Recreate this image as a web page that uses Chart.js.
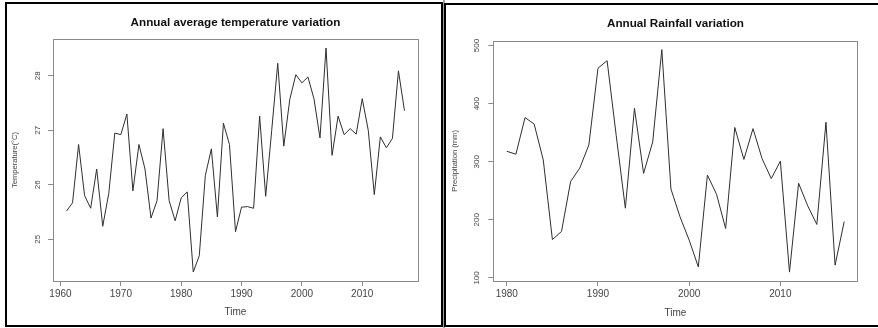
<!DOCTYPE html>
<html>
<head>
<meta charset="utf-8">
<script src="https://cdn.jsdelivr.net/npm/chart.js@4/dist/chart.umd.min.js"></script>
<style>
  html, body { margin: 0; padding: 0; background: #fff; overflow: hidden; }
  body { width: 878px; height: 328px; position: relative; }
  .panel { position: absolute; box-sizing: border-box; border: 2px solid #000; background: #fff; }
  #leftPanel { left: 5px; top: 2px; width: 438px; height: 325px; }
  #rightPanel { left: 444px; top: 3px; width: 440px; height: 324px; }
  #gap { position: absolute; left: 443px; top: 0; width: 2px; height: 328px; background: #a0a0a0; }
  canvas { position: absolute; }
  #tempChart { left: 7px; top: 5px; }
  #rainChart { left: 447px; top: 5px; }
</style>
</head>
<body>
<div id="gap"></div>
<div class="panel" id="leftPanel"></div>
<div class="panel" id="rightPanel"></div>
<canvas id="tempChart" width="434" height="320"></canvas>
<canvas id="rainChart" width="430" height="320"></canvas>
<script>
// annual average temperature, 1961-2017
const tempYears = [1961, 1962, 1963, 1964, 1965, 1966, 1967, 1968, 1969, 1970,
  1971, 1972, 1973, 1974, 1975, 1976, 1977, 1978, 1979, 1980,
  1981, 1982, 1983, 1984, 1985, 1986, 1987, 1988, 1989, 1990,
  1991, 1992, 1993, 1994, 1995, 1996, 1997, 1998, 1999, 2000,
  2001, 2002, 2003, 2004, 2005, 2006, 2007, 2008, 2009, 2010,
  2011, 2012, 2013, 2014, 2015, 2016, 2017];
const tempValues = [25.52, 25.67, 26.74, 25.80, 25.57, 26.29, 25.24, 25.84, 26.95, 26.92,
  27.30, 25.89, 26.74, 26.29, 25.39, 25.71, 27.03, 25.71, 25.34, 25.76,
  25.87, 24.40, 24.70, 26.17, 26.66, 25.41, 27.13, 26.74, 25.14, 25.59,
  25.60, 25.57, 27.26, 25.79, 27.00, 28.23, 26.71, 27.57, 28.02, 27.87,
  27.98, 27.58, 26.86, 28.51, 26.54, 27.26, 26.92, 27.03, 26.93, 27.58,
  27.00, 25.82, 26.88, 26.68, 26.85, 28.09, 27.36];
const tempTicksX = [1960, 1970, 1980, 1990, 2000, 2010];
const tempTicksY = [25, 26, 27, 28];

// annual rainfall, 1980-2017
const rainYears = [1980, 1981, 1982, 1983, 1984, 1985, 1986, 1987, 1988, 1989,
  1990, 1991, 1992, 1993, 1994, 1995, 1996, 1997, 1998, 1999,
  2000, 2001, 2002, 2003, 2004, 2005, 2006, 2007, 2008, 2009,
  2010, 2011, 2012, 2013, 2014, 2015, 2016, 2017];
const rainValues = [318, 313, 376, 365, 303, 166, 180, 266, 289, 329,
  461, 474, 345, 220, 392, 280, 334, 493, 253, 205,
  165, 119, 277, 244, 185, 359, 304, 357, 305, 271,
  301, 110, 263, 224, 192, 368, 122, 197];
const rainTicksX = [1980, 1990, 2000, 2010];
const rainTicksY = [100, 200, 300, 400, 500];

const lineColor = '#2e2e2e';
const boxColor = '#8a8a8a';
const textColor = '#444';
const sans = "'Liberation Sans', Arial, sans-serif";

// R pads the data range by 4% on each side
const rRange = arr => {
  const lo = Math.min(...arr), hi = Math.max(...arr);
  const d = (hi - lo) * 0.04;
  return [lo - d, hi + d];
};

// plot frame around the chart area
const boxPlugin = {
  id: 'box',
  afterDraw(chart) {
    const { ctx, chartArea: a } = chart;
    ctx.save();
    ctx.strokeStyle = boxColor;
    ctx.lineWidth = 1;
    ctx.strokeRect(Math.round(a.left) + 0.5, Math.round(a.top) + 0.5,
      Math.round(a.width), Math.round(a.height));
    ctx.restore();
  }
};

function makeChart(id, cfg) {
  const xr = rRange(cfg.years);
  const yr = rRange(cfg.values);
  return new Chart(document.getElementById(id), {
    type: 'line',
    data: {
      datasets: [{
        data: cfg.years.map((y, i) => ({ x: y, y: cfg.values[i] })),
        borderColor: lineColor,
        borderWidth: 1,
        pointRadius: 0,
        tension: 0,
        fill: false
      }]
    },
    options: {
      responsive: false,
      animation: false,
      devicePixelRatio: 1,
      layout: { padding: { left: 0, top: 0, right: cfg.padRight, bottom: 0 } },
      plugins: {
        legend: { display: false },
        tooltip: { enabled: false },
        title: {
          display: true,
          text: cfg.title,
          fullSize: false,
          color: '#111',
          font: { family: sans, size: 11.7, weight: 'bold', lineHeight: 1.2 },
          padding: { top: cfg.titleTop, bottom: cfg.titleBottom }
        }
      },
      scales: {
        x: {
          type: 'linear',
          min: xr[0],
          max: xr[1],
          afterBuildTicks: s => { s.ticks = cfg.ticksX.map(v => ({ value: v })); },
          afterFit: s => { s.height = 44; },
          border: { display: false },
          grid: { drawOnChartArea: false, drawTicks: true, tickLength: 5, color: boxColor },
          ticks: {
            color: textColor,
            padding: 2.7,
            maxRotation: 0,
            font: { family: sans, size: 10 },
            callback: v => String(v)
          },
          title: {
            display: true,
            text: 'Time',
            color: textColor,
            font: { family: sans, size: 10, lineHeight: 1.2 },
            padding: { top: 0, bottom: cfg.timePad }
          }
        },
        y: {
          type: 'linear',
          min: yr[0],
          max: yr[1],
          afterBuildTicks: s => { s.ticks = cfg.ticksY.map(v => ({ value: v })); },
          afterFit: s => { s.width = cfg.yWidth; },
          border: { display: false },
          grid: { drawOnChartArea: false, drawTicks: true, tickLength: 5, color: boxColor },
          ticks: {
            color: textColor,
            padding: cfg.yTickPad,
            minRotation: 90,
            maxRotation: 90,
            crossAlign: 'center',
            font: { family: sans, size: 8 },
            callback: v => String(v)
          },
          title: {
            display: true,
            text: cfg.yTitle,
            color: textColor,
            font: { family: sans, size: 7.6, lineHeight: 1.2 },
            padding: { top: 3.4, bottom: 0 }
          }
        }
      }
    },
    plugins: [boxPlugin]
  });
}

makeChart('tempChart', {
  years: tempYears, values: tempValues,
  ticksX: tempTicksX, ticksY: tempTicksY,
  title: 'Annual average temperature variation',
  yTitle: 'Temperature(°C)',
  padRight: 23, yWidth: 46, yTickPad: 5.5,
  titleTop: 10.5, titleBottom: 9.5, timePad: 7
});

makeChart('rainChart', {
  years: rainYears, values: rainValues,
  ticksX: rainTicksX, ticksY: rainTicksY,
  title: 'Annual Rainfall variation',
  yTitle: 'Precipitation (mm)',
  padRight: 19.3, yWidth: 46.3, yTickPad: 4.9,
  titleTop: 11.5, titleBottom: 10.2, timePad: 6
});
</script>
</body>
</html>
